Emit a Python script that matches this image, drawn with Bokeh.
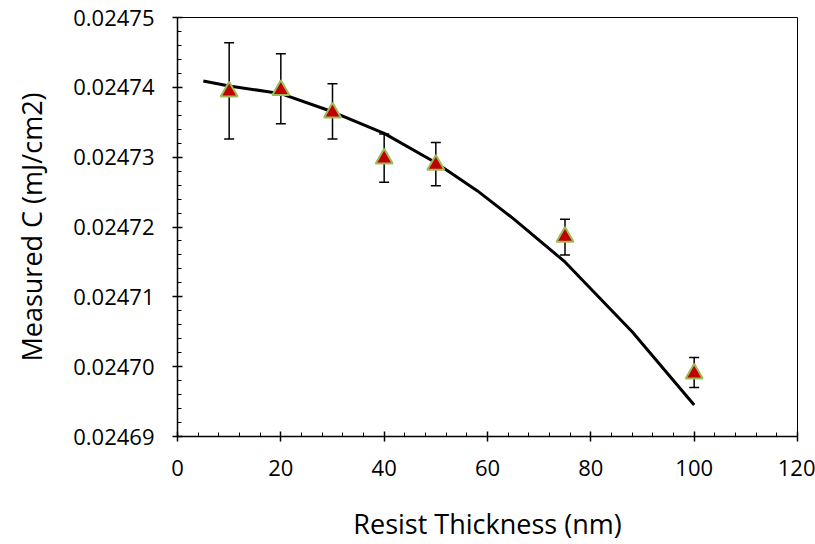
from bokeh.plotting import figure
from bokeh.models import ColumnDataSource, Whisker, TeeHead, Range1d, SingleIntervalTicker, PrintfTickFormatter
from bokeh.embed import file_html
from bokeh.resources import INLINE

# Measured data
thickness = [10, 20, 30, 40, 50, 75, 100]
measured_c = [0.0247394, 0.0247396, 0.0247364, 0.0247298, 0.0247289, 0.0247186, 0.0246990]
err_upper = [0.0247464, 0.0247448, 0.0247405, 0.0247333, 0.0247321, 0.0247211, 0.0247013]
err_lower = [0.0247326, 0.0247348, 0.0247326, 0.0247264, 0.0247259, 0.0247160, 0.0246970]

# Model curve
model_x = [5, 10, 20, 30, 40, 50, 58, 65, 75, 88, 100]
model_y = [0.0247409, 0.0247402, 0.0247391, 0.0247365, 0.0247334, 0.0247292, 0.0247252,
           0.0247212, 0.0247150, 0.0247050, 0.0246945]

FONT = "Open Sans"

p = figure(width=815, height=544, output_backend="svg", toolbar_location=None,
           x_range=Range1d(0, 120), y_range=Range1d(0.02469, 0.02475),
           min_border_left=177, min_border_right=18, min_border_top=17, min_border_bottom=107)

p.line(model_x, model_y, line_color="black", line_width=3)

src = ColumnDataSource(dict(x=thickness, y=measured_c, upper=err_upper, lower=err_lower))
w = Whisker(base="x", upper="upper", lower="lower", source=src,
            line_color="black", line_width=1.5,
            upper_head=TeeHead(size=10, line_color="black", line_width=1.5),
            lower_head=TeeHead(size=10, line_color="black", line_width=1.5))
p.add_layout(w)

p.scatter("x", "y", source=src, marker="triangle", size=17,
          fill_color="#C00000", line_color="#9BBB59", line_width=2)

p.xgrid.visible = False
p.ygrid.visible = False
p.outline_line_color = "black"
p.outline_line_width = 1
p.background_fill_color = "white"
p.border_fill_color = "white"

p.xaxis.ticker = SingleIntervalTicker(interval=20, num_minor_ticks=5)
p.yaxis.ticker = SingleIntervalTicker(interval=0.00001, num_minor_ticks=5)
p.yaxis.formatter = PrintfTickFormatter(format="%.5f")

p.xaxis.axis_label = "Resist Thickness (nm)"
p.yaxis.axis_label = "Measured C (mJ/cm2)"

for ax in (p.xaxis, p.yaxis):
    ax.axis_line_color = "black"
    ax.axis_line_width = 1.5
    ax.major_tick_line_color = "black"
    ax.major_tick_line_width = 1.5
    ax.minor_tick_line_color = "black"
    ax.minor_tick_line_width = 1
    ax.major_tick_in = 5
    ax.major_tick_out = 5
    ax.minor_tick_in = 4
    ax.minor_tick_out = 0
    ax.major_label_text_font = FONT
    ax.major_label_text_font_size = "22px"
    ax.major_label_text_color = "black"
    ax.axis_label_text_font = FONT
    ax.axis_label_text_font_size = "27px"
    ax.axis_label_text_font_style = "normal"
    ax.axis_label_text_color = "black"

p.xaxis.major_label_standoff = 18
p.yaxis.major_label_standoff = 18
p.xaxis.axis_label_standoff = 26
p.yaxis.axis_label_standoff = 20

open("out.html", "w").write(file_html(p, INLINE))
